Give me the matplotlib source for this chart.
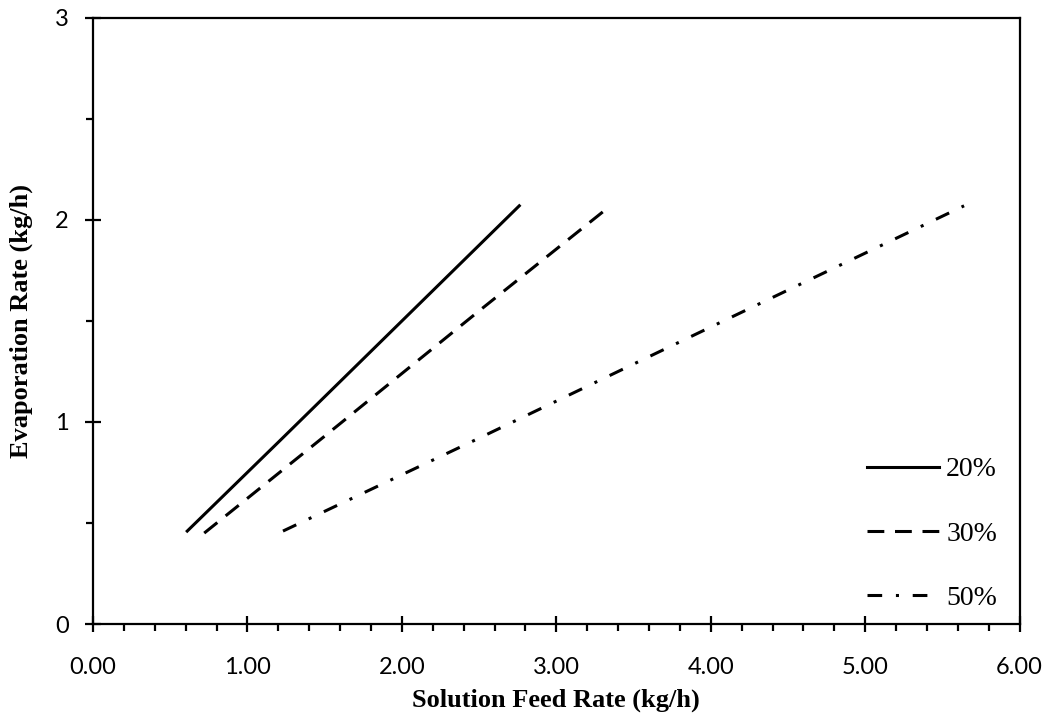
import matplotlib.pyplot as plt
from matplotlib.ticker import MultipleLocator, FormatStrFormatter

# feed rate (kg/h) vs evaporation rate (kg/h) for each concentration
feed_20 = [0.61, 1.20, 2.00, 2.76]
evap_20 = [0.46, 0.90, 1.50, 2.07]

feed_30 = [0.72, 1.50, 2.50, 3.35]
evap_30 = [0.45, 0.93, 1.55, 2.07]

feed_50 = [1.23, 2.50, 4.00, 5.64]
evap_50 = [0.46, 0.92, 1.47, 2.07]

labels = ['20%', '30%', '50%']

fig = plt.figure(figsize=(10.5, 7.17), dpi=100)
ax = fig.add_axes([0.0886, 0.1297, 0.8825, 0.8453])

lw = 2.2
ax.plot(feed_20, evap_20, color='black', lw=lw, linestyle='-', label=labels[0])
ax.plot(feed_30, evap_30, color='black', lw=lw, linestyle=(0, (5.5, 3.5)), label=labels[1])
ax.plot(feed_50, evap_50, color='black', lw=lw, linestyle=(0, (4.8, 4.5, 1, 4.5)), label=labels[2])

ax.set_xlim(0, 6)
ax.set_ylim(0, 3)
ax.xaxis.set_major_locator(MultipleLocator(1))
ax.xaxis.set_minor_locator(MultipleLocator(0.2))
ax.yaxis.set_major_locator(MultipleLocator(1))
ax.yaxis.set_minor_locator(MultipleLocator(0.5))
ax.xaxis.set_major_formatter(FormatStrFormatter('%.2f'))
ax.yaxis.set_major_formatter(FormatStrFormatter('%d'))

for s in ax.spines.values():
    s.set_linewidth(1.6)
ax.tick_params(which='major', direction='inout', length=11, width=1.6, labelsize=17)
ax.tick_params(axis='x', which='major', pad=18)
ax.tick_params(axis='y', which='major', pad=12)
ax.tick_params(which='minor', direction='out', length=5, width=1.6)
for lab in ax.get_xticklabels() + ax.get_yticklabels():
    lab.set_family('Lato')

ax.set_xlabel('Solution Feed Rate (kg/h)', family='Liberation Serif', fontweight='bold', fontsize=19, labelpad=8)
ax.set_ylabel('Evaporation Rate (kg/h)', family='Liberation Serif', fontweight='bold', fontsize=19, labelpad=16)

leg = ax.legend(loc='lower right', bbox_to_anchor=(1.0025, -0.02), frameon=False,
                prop={'family': 'Liberation Serif', 'size': 20},
                handlelength=2.6, handletextpad=0.25, labelspacing=1.4)

fig.savefig('out.png', dpi=100)
